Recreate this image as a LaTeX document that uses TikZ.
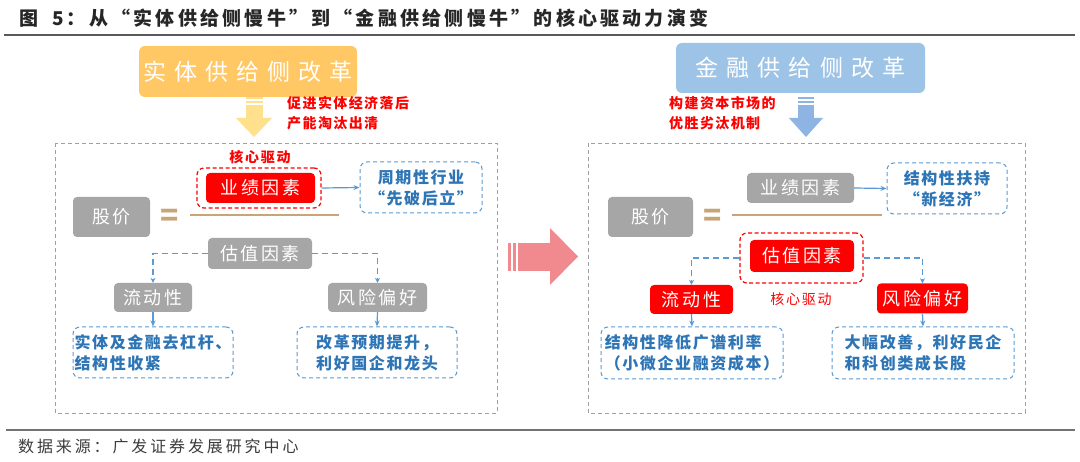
\documentclass[tikz,border=0pt]{standalone}
\usepackage{fontspec}
\setmainfont{Noto Sans CJK SC}
\newfontfamily\cjk{Noto Sans CJK SC}
\usetikzlibrary{arrows.meta}
\definecolor{cgray}{HTML}{A6A6A6}
\definecolor{cred}{HTML}{FF0000}
\definecolor{cblue}{HTML}{5B9BD5}
\definecolor{cbluet}{HTML}{2E75B6}
\definecolor{corange}{HTML}{FFC864}
\definecolor{cyellow}{HTML}{FFE08C}
\definecolor{clblue}{HTML}{9DC3E6}
\definecolor{carrowb}{HTML}{8EB4E3}
\definecolor{cpink}{HTML}{F08A8E}
\definecolor{ctan}{HTML}{C9A576}
\definecolor{cframe}{HTML}{A0A0A0}
\definecolor{ctitle}{HTML}{262626}
\begin{document}
\begin{tikzpicture}[x=1pt,y=-1pt,
  bigbox/.style={rounded corners=6pt, inner sep=0pt, text=white,
    font=\cjk\fontsize{23}{26}\selectfont\addfontfeatures{LetterSpace=35}},
  tbox/.style={rounded corners=4pt, inner sep=0pt, text=white,
    font=\cjk\fontsize{18}{20}\selectfont\addfontfeatures{LetterSpace=14}},
  gbox/.style={tbox, fill=cgray},
  rbox/.style={tbox, fill=cred},
  bdash/.style={draw=cblue, dash pattern=on 4pt off 3pt, rounded corners=7pt, line width=1pt,
    inner sep=0pt, text=cbluet, align=left,
    font=\cjk\bfseries\fontsize{16}{21}\selectfont\addfontfeatures{LetterSpace=10}},
  rdash/.style={draw=cred, dash pattern=on 4pt off 2.5pt, rounded corners=7pt, line width=1.2pt, inner sep=0pt},
  redann/.style={text=cred, align=left, inner sep=0pt,
    font=\cjk\bfseries\fontsize{14}{20}\selectfont\addfontfeatures{LetterSpace=10}},
  barrow/.style={draw=cblue, line width=1.2pt, -{Stealth[length=6pt,width=5pt]}},
  dconn/.style={draw=cblue, line width=1.2pt, dash pattern=on 6pt off 4pt, -{Stealth[length=5pt,width=5pt]}},
  frame/.style={draw=cframe, line width=0.9pt, dash pattern=on 4pt off 3pt},
  eqsign/.style={text=ctan, inner sep=0pt, font=\cjk\bfseries\fontsize{30}{30}\selectfont},
  tanline/.style={draw=ctan, line width=1.8pt},
]
\useasboundingbox (0,0) rectangle (1080,462);
\fill[white] (0,0) rectangle (1080,462);

% title
\node[anchor=west, inner sep=0pt, text=ctitle,
  font=\cjk\bfseries\fontsize{19}{22}\selectfont\addfontfeatures{LetterSpace=17}] (title) at (19,18)
  {图\hspace*{14pt}5：从“实体供给侧慢牛”到“金融供给侧慢牛”的核心驱动力演变};
\draw[draw=black!65, line width=1.2pt] (4,35) -- (1075,35);

% ---------------- left panel ----------------
\node[bigbox, fill=corange, minimum width=218, minimum height=51] (L0) at (248,71.5) {实体供给侧改革};
\fill[cyellow] (245.5,97.5) rectangle (262.5,99.5);
\fill[cyellow] (245.5,101.5) rectangle (262.5,103.5);
\fill[cyellow] (245.5,105.5) rectangle (262.5,118.5);
\fill[cyellow] (236,118) -- (272,118) -- (254,137) -- cycle;
\node[redann, anchor=north west] (L1) at (287,96) {促进实体经济落后\\产能淘汰出清};

\draw[frame] (55,143) rectangle (497,413);

\node[text=cred, inner sep=0pt, font=\cjk\bfseries\fontsize{14}{16}\selectfont\addfontfeatures{LetterSpace=12}] (Lhx) at (260,157) {核心驱动};
\node[rdash, minimum width=124, minimum height=40] (Lyd) at (259,188) {};
\node[rbox, minimum width=109, minimum height=30] (Lyj) at (260.5,188) {业绩因素};
\node[bdash, align=center, minimum width=122, minimum height=51] (Lb1) at (421,187.5) {周期性行业\\“先破后立”};
\draw[barrow] (Lyd.east) -- (Lb1.west);

\node[gbox, minimum width=77, minimum height=40] (Lgj) at (111.5,217) {股价};
\node[eqsign] (Leq) at (170,218) {=};
\coordinate (Lf1) at (190,215);
\coordinate (Lf2) at (339,215);
\draw[tanline] (Lf1) -- (Lf2);

\node[gbox, minimum width=104, minimum height=31] (Lgz) at (260,253.5) {估值因素};
\node[gbox, minimum width=78, minimum height=29] (Lld) at (153,297.5) {流动性};
\node[gbox, minimum width=99, minimum height=29] (Lfx) at (377.5,297.5) {风险偏好};
\draw[dconn] (Lgz.west) -| (Lld.north);
\draw[dconn] (Lgz.east) -| (Lfx.north);

\node[bdash, minimum width=160, minimum height=51] (Lb2) at (153,352.5) {实体及金融去杠杆、\\结构性收紧};
\node[bdash, minimum width=160, minimum height=51] (Lb3) at (377,352.5) {改革预期提升，\\利好国企和龙头};
\draw[barrow] (Lld.south) -- (Lb2.north);
\draw[barrow] (Lfx.south) -- (Lb3.north);

% ---------------- middle arrow ----------------
\fill[cpink] (508,243) rectangle (511,271);
\fill[cpink] (513,243) rectangle (516,271);
\fill[cpink] (518,243) rectangle (550.5,271);
\fill[cpink] (550,228) -- (578,256.5) -- (550,285) -- cycle;

% ---------------- right panel ----------------
\node[bigbox, fill=clblue, minimum width=249, minimum height=50] (R0) at (800.5,68) {金融供给侧改革};
\fill[carrowb] (798,97.5) rectangle (814,99.5);
\fill[carrowb] (798,101.5) rectangle (814,103.5);
\fill[carrowb] (798,105.5) rectangle (814,118.5);
\fill[carrowb] (789,118) -- (823,118) -- (806,137) -- cycle;
\node[redann, anchor=north west] (R1) at (669,96) {构建资本市场的\\优胜劣汰机制};

\draw[frame] (588,143) rectangle (1025,413);

\node[gbox, minimum width=85, minimum height=40] (Rgj) at (650.5,217) {股价};
\node[eqsign] (Req) at (712.5,218) {=};
\coordinate (Rf1) at (732,215);
\coordinate (Rf2) at (882,215);
\draw[tanline] (Rf1) -- (Rf2);

\node[gbox, minimum width=107, minimum height=30] (Ryj) at (800.5,188) {业绩因素};
\node[bdash, align=center, minimum width=120, minimum height=51] (Rb1) at (947,188.5) {结构性扶持\\“新经济”};
\draw[barrow] (Ryj.east) -- (Rb1.west);

\node[rdash, minimum width=123, minimum height=50] (Rgd) at (801.5,258) {};
\node[rbox, minimum width=104, minimum height=32] (Rgz) at (802,256) {估值因素};
\node[rbox, minimum width=83, minimum height=29] (Rld) at (691.5,299.5) {流动性};
\node[rbox, minimum width=91, minimum height=30] (Rfx) at (922.5,298.5) {风险偏好};
\draw[dconn] (Rgd.west) -| (Rld.north);
\draw[dconn] (Rgd.east) -| (Rfx.north);
\node[text=cred, inner sep=0pt, font=\cjk\fontsize{14}{16}\selectfont\addfontfeatures{LetterSpace=12}] (Rhx) at (801,299) {核心驱动};

\node[bdash, minimum width=182, minimum height=52] (Rb2) at (692,353) {结构性降低广谱利率\\（小微企业融资成本）};
\node[bdash, minimum width=182, minimum height=52] (Rb3) at (923,353) {大幅改善，利好民企\\和科创类成长股};
\draw[barrow] (Rld.south) -- (Rb2.north);
\draw[barrow] (Rfx.south) -- (Rb3.north);

% footer
\draw[draw=black!55, line width=1.2pt] (6,430) -- (1075,430);
\node[anchor=west, inner sep=0pt, text=ctitle!90,
  font=\cjk\fontsize{16}{18}\selectfont\addfontfeatures{LetterSpace=18}] (src) at (18,446)
  {数据来源：广发证券发展研究中心};
\end{tikzpicture}
\end{document}
